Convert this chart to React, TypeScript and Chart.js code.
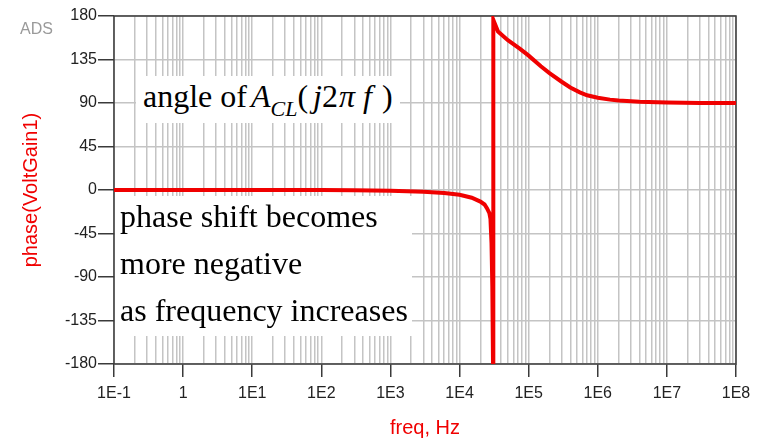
import React, { useEffect, useRef } from 'react';
import { Chart, registerables } from 'chart.js';

Chart.register(...registerables);

// Frequency response phase of the closed-loop gain, freq in Hz, phase in degrees
const freqHz = [
  0.1, 1, 10, 100, 300, 1000, 3000, 6000, 1e4, 1.5e4, 2e4, 2.3e4, 2.5e4, 2.7e4,
  2.8e4, 2.9e4, 2.98e4, 3.05e4, 3.08e4, 3.6e4, 5e4, 7.5e4, 1e5, 1.5e5, 2e5, 3e5,
  4e5, 5.5e5, 7e5, 1e6, 1.5e6, 2e6, 4e6, 1e7, 3e7, 1e8,
];
const phaseDeg = [
  0, 0, 0, -0.1, -0.3, -0.8, -1.8, -3.2, -5, -8, -12, -15, -19, -24,
  -30, -55, -100, -180, 176, 164, 155, 146, 139, 128, 121, 112,
  106, 101, 98, 95.5, 93.5, 92.5, 91.2, 90.5, 90.1, 90,
];

const decades = [0.1, 1, 10, 1e2, 1e3, 1e4, 1e5, 1e6, 1e7, 1e8];
const decadeLabels = ['1E-1', '1', '1E1', '1E2', '1E3', '1E4', '1E5', '1E6', '1E7', '1E8'];
const phaseTicks = [-180, -135, -90, -45, 0, 45, 90, 135, 180];

const W = 769;
const H = 440;
const SANS = "'Liberation Sans', Arial, sans-serif";
const SERIF = "'Liberation Serif', 'Times New Roman', serif";
const GRID = '#c4c4c4';
const AXIS = '#3a3a3a';
const RED = '#f00000';

const decadeIndex = (v: number) => decades.findIndex((d) => Math.abs(v / d - 1) < 1e-9);

// decade ticks plus the 2..9 minor ticks in between
function logTicks() {
  const t: { value: number }[] = [];
  decades.forEach((d, i) => {
    t.push({ value: d });
    if (i < decades.length - 1) for (let m = 2; m <= 9; m++) t.push({ value: d * m });
  });
  return t;
}

const framePlugin = {
  id: 'frame',
  beforeDatasetsDraw(chart: any) {
    const { ctx, chartArea } = chart;
    const { left, top, right, bottom } = chartArea;
    ctx.save();
    ctx.strokeStyle = AXIS;
    ctx.lineWidth = 1.5;
    ctx.strokeRect(left, top, right - left, bottom - top);
    ctx.restore();
  },
};

export default function App() {
  const canvasRef = useRef<HTMLCanvasElement | null>(null);

  useEffect(() => {
    if (!canvasRef.current) return;
    const chart = new Chart(canvasRef.current, {
      type: 'line',
      data: {
        datasets: [
          {
            data: freqHz.map((f, i) => ({ x: f, y: phaseDeg[i] })),
            borderColor: RED,
            borderWidth: 4,
            pointRadius: 0,
            tension: 0,
            fill: false,
          },
        ],
      },
      plugins: [framePlugin],
      options: {
        animation: false,
        responsive: false,
        devicePixelRatio: 1,
        layout: { padding: { left: 0, top: 16, right: 33, bottom: 0 } },
        plugins: { legend: { display: false }, tooltip: { enabled: false } },
        scales: {
          x: {
            type: 'logarithmic',
            min: 0.1,
            max: 1e8,
            afterBuildTicks: (scale: any) => {
              scale.ticks = logTicks();
            },
            afterFit: (scale: any) => {
              scale.height = 76;
            },
            border: { display: false },
            grid: {
              color: GRID,
              lineWidth: 1.5,
              tickLength: 13,
              tickWidth: 1.5,
              tickColor: (ctx: any) =>
                ctx.tick && decadeIndex(ctx.tick.value) >= 0 ? AXIS : 'rgba(0,0,0,0)',
            },
            ticks: {
              autoSkip: false,
              maxRotation: 0,
              minRotation: 0,
              padding: 7,
              color: '#222',
              font: { family: SANS, size: 16 },
              callback: (v: any) => {
                const i = decadeIndex(Number(v));
                return i >= 0 ? decadeLabels[i] : '';
              },
            },
            title: {
              display: true,
              text: 'freq, Hz',
              color: RED,
              font: { family: SANS, size: 20 },
              padding: { top: 0, bottom: 0 },
            },
          },
          y: {
            type: 'linear',
            min: -180,
            max: 180,
            afterBuildTicks: (scale: any) => {
              scale.ticks = phaseTicks.map((v) => ({ value: v }));
            },
            afterFit: (scale: any) => {
              scale.width = 114;
            },
            border: { display: false },
            grid: {
              color: GRID,
              lineWidth: 1.5,
              tickLength: 16,
              tickWidth: 1.5,
              tickColor: AXIS,
            },
            ticks: {
              padding: 1,
              color: '#222',
              font: { family: SANS, size: 16 },
              callback: (v: any) => String(v),
            },
            title: {
              display: true,
              text: 'phase(VoltGain1)',
              color: RED,
              font: { family: SANS, size: 20 },
              padding: { top: 19, bottom: 0 },
            },
          },
        },
      },
    } as any);
    return () => chart.destroy();
  }, []);

  const serifBox: React.CSSProperties = {
    position: 'absolute',
    background: '#fff',
    fontFamily: SERIF,
    color: '#000',
    whiteSpace: 'nowrap',
    boxSizing: 'border-box',
  };

  return (
    <div style={{ position: 'absolute', left: 0, top: 0, width: W, height: H, background: '#fff' }}>
      <canvas ref={canvasRef} width={W} height={H} style={{ display: 'block' }} />
      <div
        style={{
          position: 'absolute',
          left: 20,
          top: 21,
          fontFamily: SANS,
          fontSize: 16,
          color: '#9a9a9a',
          lineHeight: '16px',
        }}
      >
        ADS
      </div>
      <div
        style={{
          ...serifBox,
          left: 136,
          top: 76,
          width: 264,
          height: 47,
          fontSize: 32,
          lineHeight: '41px',
          paddingLeft: 7,
        }}
      >
        angle of<i style={{ marginLeft: 4 }}>A</i>
        <i style={{ fontSize: 22, verticalAlign: '-9px', lineHeight: 1 }}>CL</i>
        <span>(</span>
        <i style={{ marginLeft: 5 }}>j</i>2<i style={{ marginLeft: 1 }}>π</i>
        <i style={{ marginLeft: 8 }}>f</i>
        <span style={{ marginLeft: 10 }}>)</span>
      </div>
      <div
        style={{
          ...serifBox,
          left: 115,
          top: 196,
          width: 297,
          height: 140,
          fontSize: 32,
          lineHeight: '47px',
          paddingLeft: 5,
        }}
      >
        <div style={{ position: 'relative', top: -3 }}>
          <div>phase shift becomes</div>
          <div>more negative</div>
          <div>as frequency increases</div>
        </div>
      </div>
    </div>
  );
}
